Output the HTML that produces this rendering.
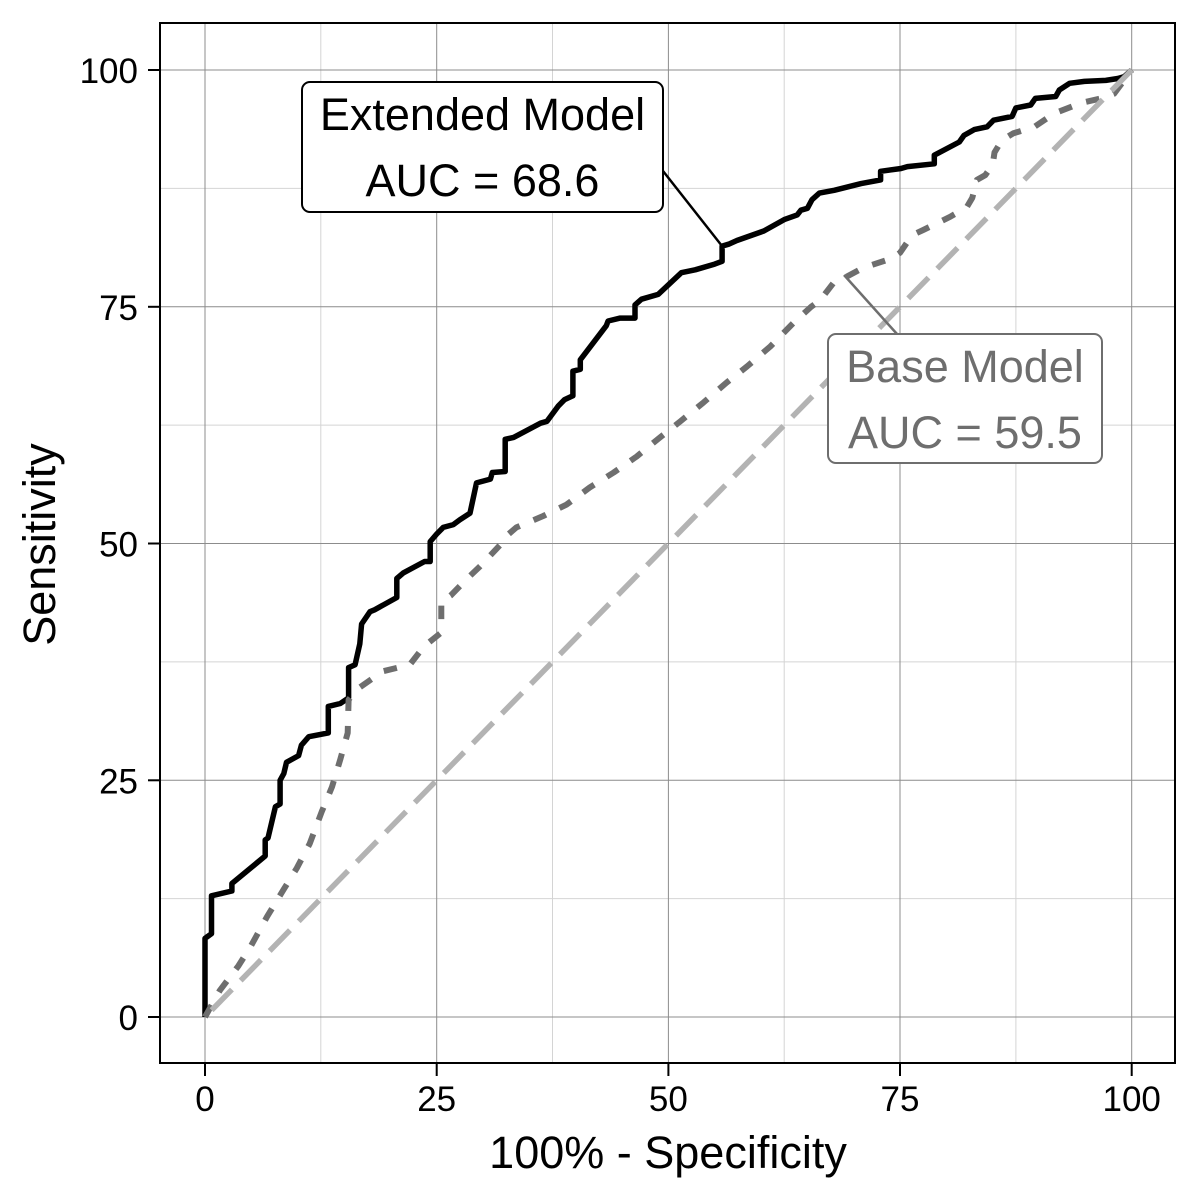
<!DOCTYPE html>
<html>
<head>
<meta charset="utf-8">
<style>
html,body{margin:0;padding:0;background:#fff;}
svg{display:block;}
text{font-family:"Liberation Sans",Arial,sans-serif;}
</style>
</head>
<body>
<svg width="1200" height="1200" viewBox="0 0 1200 1200" xmlns="http://www.w3.org/2000/svg">
<rect x="0" y="0" width="1200" height="1200" fill="#fff"/>
<!-- minor grid -->
<g stroke="#d4d4d4" stroke-width="1" fill="none">
<line x1="320.8" y1="23" x2="320.8" y2="1063"/>
<line x1="552.5" y1="23" x2="552.5" y2="1063"/>
<line x1="784.2" y1="23" x2="784.2" y2="1063"/>
<line x1="1015.9" y1="23" x2="1015.9" y2="1063"/>
<line x1="160" y1="898.6" x2="1175" y2="898.6"/>
<line x1="160" y1="661.9" x2="1175" y2="661.9"/>
<line x1="160" y1="425.1" x2="1175" y2="425.1"/>
<line x1="160" y1="188.4" x2="1175" y2="188.4"/>
</g>
<!-- major grid -->
<g stroke="#8c8c8c" stroke-width="1" fill="none">
<line x1="205" y1="23" x2="205" y2="1063"/>
<line x1="436.7" y1="23" x2="436.7" y2="1063"/>
<line x1="668.4" y1="23" x2="668.4" y2="1063"/>
<line x1="900" y1="23" x2="900" y2="1063"/>
<line x1="1131.7" y1="23" x2="1131.7" y2="1063"/>
<line x1="160" y1="1017" x2="1175" y2="1017"/>
<line x1="160" y1="780.3" x2="1175" y2="780.3"/>
<line x1="160" y1="543.5" x2="1175" y2="543.5"/>
<line x1="160" y1="306.8" x2="1175" y2="306.8"/>
<line x1="160" y1="70" x2="1175" y2="70"/>
</g>

<!-- Extended model -->
<polyline fill="none" stroke="#000" stroke-width="5.5" stroke-linejoin="round" stroke-linecap="butt"
points="205,1017 205,938.4 211.5,933.7 211.5,895.8 231.9,891 231.9,883.5 265.2,856 265.2,839.9 268,838 275.4,806.8 280.1,804 280.1,780.3 283.8,773.6 286.5,762.3 298.6,755.6 301.4,745.2 308.8,736.7 328.3,732.9 328.3,706.4 340.3,703.5 348.6,697.9 348.6,667.6 355.1,664.7 359.8,643.9 361.6,624 370,611.7 374.6,609.8 396.8,597.5 396.8,578.5 403.3,572.9 424.6,561.5 430.2,561.5 430.2,541.6 436.7,534 443.2,527.4 453.4,524.6 459.8,519.8 470,513.2 476.5,482.9 490.4,479.1 492.3,472.5 505.2,471.5 505.2,439.3 513.6,437.4 540.5,423.2 547,421.3 558.1,406.2 564.6,399.6 572.9,395.8 572.9,371.2 580.3,369.3 580.3,359.8 606.3,325.7 608.1,321 620.2,318.1 635,318.1 635,304.9 641.5,299.2 658.2,294.4 681.3,272.7 695.2,269.8 714.7,264.1 722.1,261.3 722.1,246.1 728.6,244.2 736.9,240.5 763.8,231 784.2,219.6 797.2,214.9 800.9,210.2 807.4,208.3 812,199.7 819.4,193.1 834.2,190.3 861.1,183.6 880.6,179.9 880.6,171.3 901,168.5 907.4,166.6 934.3,163.8 934.3,155.2 959.3,142 964,135.4 974.2,129.6 987.1,126.8 993.6,120.2 1012.1,116.4 1015.9,107.9 1030.7,105 1035.3,98.4 1055.7,96.5 1059.4,89.9 1069.6,83.3 1084.4,81.4 1105.8,80.4 1117.8,78.5 1124.3,76.6 1131.7,70"/>

<!-- Base model -->
<polyline fill="none" stroke="#6e6e6e" stroke-width="6" stroke-linejoin="round" stroke-linecap="butt" stroke-dasharray="13.5 15"
points="205,1017 219.8,990.5 238.4,965.9 250.4,946.9 267.1,916.6 283.8,889.2 296.7,868.3 309.7,843.7 321.8,811.5 332,786.9 340.3,759.4 347.7,732.9 348.6,699.8 357,689.3 382.9,671.3 409.8,664.7 423.7,646.7 441.3,632.5 441.3,601.3 450.6,595.6 468.2,577.6 480.2,566.2 499.7,545.4 504.3,537.8 516.4,527.4 543.2,516 566.4,504.7 589.6,487.6 613.7,472.5 636.8,456.4 660,437.4 680.4,421.3 703.6,402.4 726.7,382.5 747.1,366.4 770.3,346.5 793.5,322.8 811.1,306.8 820.3,300.1 833.3,283.1 845.3,277.4 863,267.9 891.7,258.4 900,252.8 908.4,240.5 913,234.8 923.2,230 950.1,216.8 966.7,207.3 972.3,197.8 976.9,179.9 985.3,175.1 992.7,164.7 994.5,152.4 1002,140.1 1013.1,133.4 1034.4,126.8 1053.9,113.6 1080.7,103.1 1101.1,98.4 1114.1,93.7 1131.7,70"/>

<!-- Diagonal reference -->
<line x1="1131.7" y1="70" x2="205" y2="1017" stroke="#b3b3b3" stroke-width="5.5" stroke-linecap="butt" stroke-dasharray="29 12.5"/>

<!-- Leader lines -->
<line x1="663" y1="171" x2="722" y2="246" stroke="#000" stroke-width="2.5"/>
<line x1="844" y1="275" x2="897" y2="334" stroke="#6e6e6e" stroke-width="2.5"/>

<!-- Extended label -->
<rect x="302" y="82" width="361" height="130" rx="8" ry="8" fill="#fff" stroke="#000" stroke-width="2"/>
<text x="482.5" y="130" font-size="45" text-anchor="middle" fill="#000">Extended Model</text>
<text x="482.5" y="196" font-size="45" text-anchor="middle" fill="#000">AUC = 68.6</text>

<!-- Base label -->
<rect x="828" y="334" width="274" height="129" rx="8" ry="8" fill="#fff" stroke="#6e6e6e" stroke-width="2"/>
<text x="965" y="382" font-size="45" text-anchor="middle" fill="#6e6e6e">Base Model</text>
<text x="965" y="448" font-size="45" text-anchor="middle" fill="#6e6e6e">AUC = 59.5</text>

<!-- Panel border -->
<rect x="160" y="23" width="1015" height="1040" fill="none" stroke="#000" stroke-width="2"/>

<!-- Ticks -->
<g stroke="#000" stroke-width="2">
<line x1="148" y1="1017" x2="160" y2="1017"/>
<line x1="148" y1="780.3" x2="160" y2="780.3"/>
<line x1="148" y1="543.5" x2="160" y2="543.5"/>
<line x1="148" y1="306.8" x2="160" y2="306.8"/>
<line x1="148" y1="70" x2="160" y2="70"/>
<line x1="205" y1="1063" x2="205" y2="1076"/>
<line x1="436.7" y1="1063" x2="436.7" y2="1076"/>
<line x1="668.4" y1="1063" x2="668.4" y2="1076"/>
<line x1="900" y1="1063" x2="900" y2="1076"/>
<line x1="1131.7" y1="1063" x2="1131.7" y2="1076"/>
</g>

<!-- Tick labels -->
<g font-size="35" fill="#000">
<text x="138" y="1030" text-anchor="end">0</text>
<text x="138" y="793.3" text-anchor="end">25</text>
<text x="138" y="556.5" text-anchor="end">50</text>
<text x="138" y="319.8" text-anchor="end">75</text>
<text x="138" y="83" text-anchor="end">100</text>
<text x="205" y="1111" text-anchor="middle">0</text>
<text x="436.7" y="1111" text-anchor="middle">25</text>
<text x="668.4" y="1111" text-anchor="middle">50</text>
<text x="900" y="1111" text-anchor="middle">75</text>
<text x="1131.7" y="1111" text-anchor="middle">100</text>
</g>

<!-- Axis titles -->
<text x="668" y="1168" font-size="45" text-anchor="middle" fill="#000">100% - Specificity</text>
<text transform="translate(55,544.5) rotate(-90)" font-size="45" text-anchor="middle" fill="#000">Sensitivity</text>
</svg>
</body>
</html>
